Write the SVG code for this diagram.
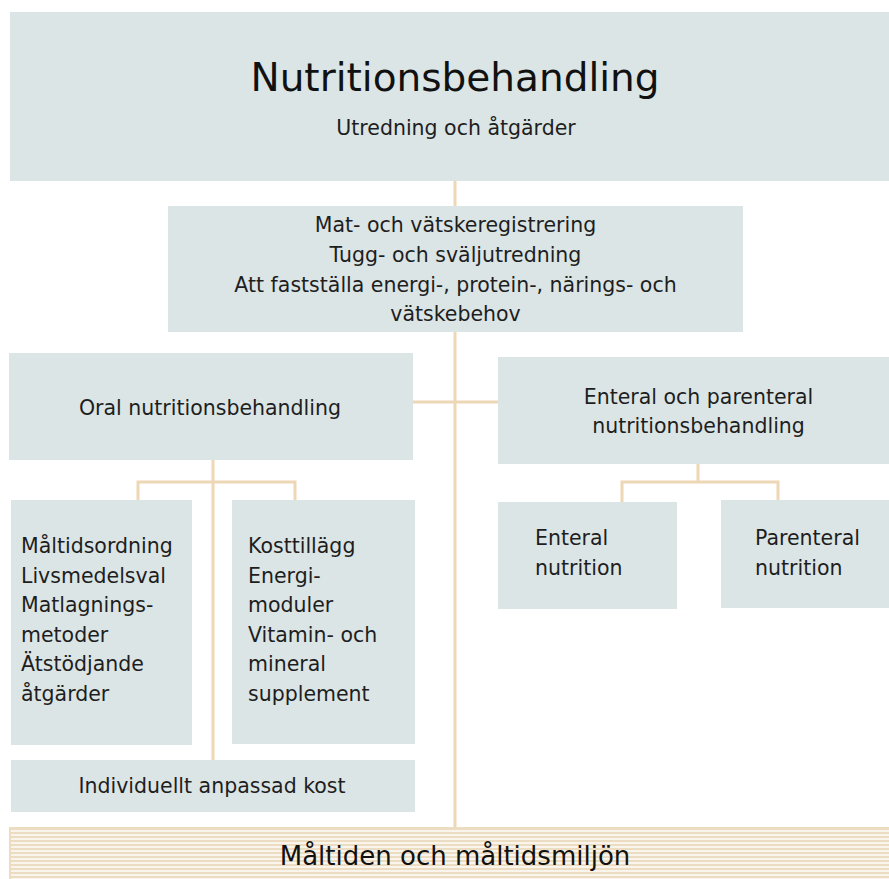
<svg xmlns="http://www.w3.org/2000/svg" width="889" height="879" viewBox="0 0 889 879">
<style>
.box{fill:#dbe5e5}
.t{font-family:"DejaVu Sans","Liberation Sans",sans-serif;font-size:20.5px;fill:#1e1e1e}
.c{text-anchor:middle}
.conn{fill:none;stroke:#edd7b5;stroke-width:3}
</style>
<defs>
<pattern id="stripes" patternUnits="userSpaceOnUse" x="0" y="828" width="8" height="4">
<rect width="8" height="4" fill="#faf5ec"/>
<rect width="8" height="2" fill="#ecdcc1"/>
</pattern>
</defs>
<rect width="889" height="879" fill="#ffffff"/>
<g id="connectors">
<line class="conn" x1="455" y1="181" x2="455" y2="206"/>
<line class="conn" x1="455" y1="332" x2="455" y2="828"/>
<line class="conn" x1="413" y1="402" x2="498" y2="402"/>
<line class="conn" x1="213" y1="460" x2="213" y2="760"/>
<polyline class="conn" points="138,501 138,482 295,482 295,501"/>
<line class="conn" x1="698" y1="464" x2="698" y2="482"/>
<polyline class="conn" points="622,502 622,482 778,482 778,501"/>
</g>
<g id="top">
<rect class="box" x="10" y="12" width="879" height="169"/>
<text class="t c" x="455" y="91" style="font-size:39px;fill:#111">Nutritionsbehandling</text>
<text class="t c" x="456" y="135">Utredning och åtgärder</text>
</g>
<g id="assessment">
<rect class="box" x="168" y="206" width="575" height="126"/>
<text class="t c" x="455.5" y="232">Mat- och vätskeregistrering</text>
<text class="t c" x="455.5" y="262">Tugg- och sväljutredning</text>
<text class="t c" x="455.5" y="292">Att fastställa energi-, protein-, närings- och</text>
<text class="t c" x="455.5" y="321">vätskebehov</text>
</g>
<g id="oral">
<rect class="box" x="9" y="353" width="404" height="107"/>
<text class="t c" x="210" y="415">Oral nutritionsbehandling</text>
</g>
<g id="enteral-parenteral">
<rect class="box" x="498" y="357" width="391" height="107"/>
<text class="t c" x="698.5" y="404">Enteral och parenteral</text>
<text class="t c" x="698.5" y="433">nutritionsbehandling</text>
</g>
<g id="meal">
<rect class="box" x="11" y="500" width="181" height="245"/>
<text class="t" x="21" y="553">Måltidsordning</text>
<text class="t" x="21" y="582.5">Livsmedelsval</text>
<text class="t" x="21" y="612">Matlagnings-</text>
<text class="t" x="21" y="641.5">metoder</text>
<text class="t" x="21" y="671">Ätstödjande</text>
<text class="t" x="21" y="700.5">åtgärder</text>
</g>
<g id="supplements">
<rect class="box" x="232" y="500" width="183" height="244"/>
<text class="t" x="248" y="553">Kosttillägg</text>
<text class="t" x="248" y="582.5">Energi-</text>
<text class="t" x="248" y="612">moduler</text>
<text class="t" x="248" y="641.5">Vitamin- och</text>
<text class="t" x="248" y="671">mineral</text>
<text class="t" x="248" y="700.5">supplement</text>
</g>
<g id="individual">
<rect class="box" x="11" y="760" width="404" height="52"/>
<text class="t c" x="212" y="793">Individuellt anpassad kost</text>
</g>
<g id="enteral">
<rect class="box" x="498" y="502" width="179" height="107"/>
<text class="t" x="535" y="545">Enteral</text>
<text class="t" x="535" y="575">nutrition</text>
</g>
<g id="parenteral">
<rect class="box" x="721" y="500" width="168" height="108"/>
<text class="t" x="755" y="545">Parenteral</text>
<text class="t" x="755" y="575">nutrition</text>
</g>
<g id="mealtime">
<rect x="10" y="828" width="880" height="52" fill="url(#stripes)" stroke="#ecdcc1" stroke-width="2"/>
<text class="t c" x="455" y="865" style="font-size:26px;fill:#111">Måltiden och måltidsmiljön</text>
</g>
</svg>
